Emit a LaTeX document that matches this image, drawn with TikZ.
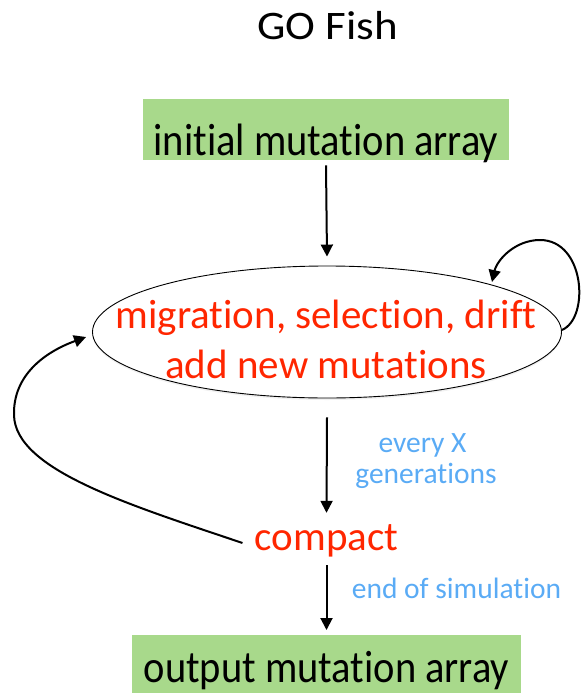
\documentclass[tikz,border=0pt]{standalone}
\usepackage{fontspec}
\setmainfont{Carlito}[Ligatures={NoCommon,NoContextual}]
\usetikzlibrary{arrows.meta,shapes.geometric,shadows}
\definecolor{boxgreen}{HTML}{A8D98B}
\definecolor{txtred}{HTML}{FF2600}
\definecolor{txtblue}{HTML}{5AABF5}
\newcommand{\tallbox}[1]{\scalebox{1}[1.12]{#1}}
\begin{document}
\begin{tikzpicture}[x=1pt,y=-1pt,
  arr/.style={-{Triangle[length=12pt,width=12pt]}, line width=2pt, black},
  greenbox/.style={fill=boxgreen, inner sep=0pt, font=\fontsize{40.5}{44}\selectfont},
  redtxt/.style={text=txtred, inner sep=0pt, font=\fontsize{41}{44}\selectfont},
  bluetxt/.style={text=txtblue, inner sep=0pt, anchor=base, font=\fontsize{29.5}{32}\selectfont}]
\useasboundingbox (0,0) rectangle (582,693);
\node[anchor=base, inner sep=0pt, font=\fontsize{45}{48}\selectfont] (title) at (327.5,40) {\scalebox{1}[0.9]{GO Fish}};
\node[greenbox, anchor=north, minimum width=366pt, text height=56pt, text depth=5pt] (init) at (326,99) {\tallbox{initial mutation array}};
\node[ellipse, draw=black, line width=0.9pt, fill=white, minimum width=469pt, minimum height=132pt, inner sep=0pt,
      drop shadow={opacity=0.12, shadow xshift=0pt, shadow yshift=-2pt}] (loop) at (327,332) {};
\node[redtxt, anchor=base] (loopA) at (326,328) {migration, selection, drift};
\node[redtxt, anchor=base] (loopB) at (326,378) {add new mutations};
\node[redtxt, anchor=base, text height=37pt, text depth=15pt] (compact) at (326.5,550) {compact};
\node[bluetxt] (everyX) at (422.5,452) {every X};
\node[bluetxt] (gens) at (426,483) {generations};
\node[bluetxt] (endsim) at (456.5,598) {end of simulation};
\node[greenbox, anchor=north, minimum width=389pt, text height=47pt, text depth=11pt] (out) at (326.5,635) {\tallbox{output mutation array}};
\draw[arr] ([yshift=-5pt]init.south) -- ([yshift=9pt]loop.north);
\draw[arr] ([yshift=-19pt]loop.south) -- (compact.north);
\draw[arr] (compact.south) -- ([yshift=5pt]out.north);
\draw[arr] ([xshift=-12pt,yshift=-4pt]compact.west) .. controls (130,505) and (15,470) .. (14,415)
  .. controls (13,375) and (45,352) .. ([xshift=-6pt,yshift=-5pt]loop.west);
\draw[arr] ([yshift=2pt]loop.east) .. controls (590,318) and (585,240) .. (540,240)
  .. controls (515,240) and (497,260) .. ([shift={(165pt,50pt)}]loop.center);
\end{tikzpicture}
\end{document}
